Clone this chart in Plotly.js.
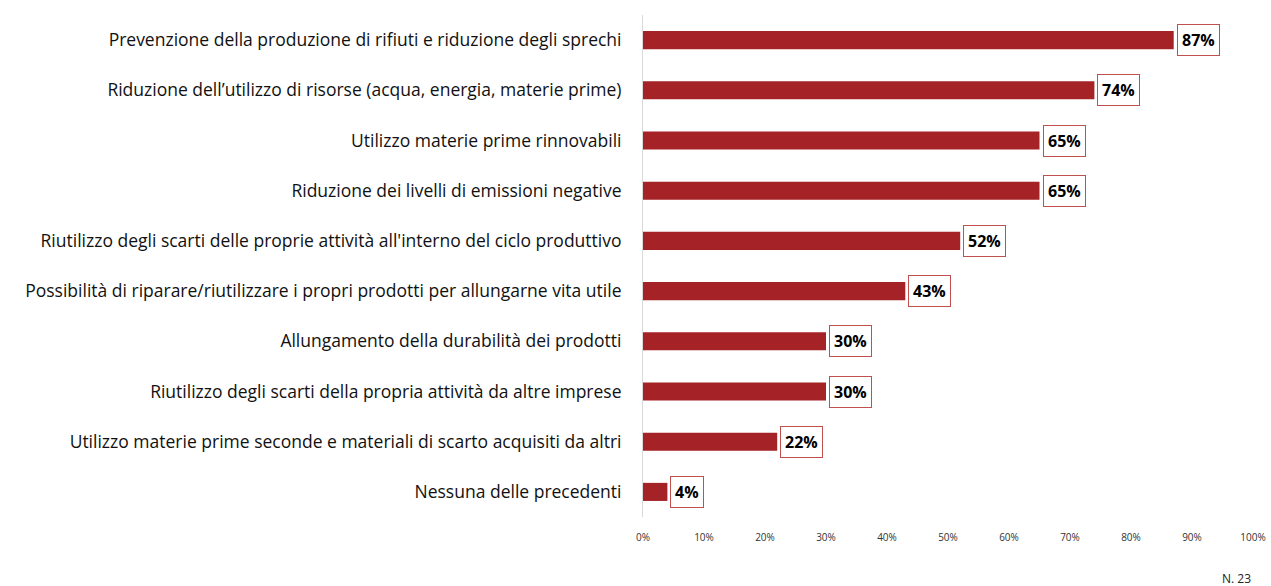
<!DOCTYPE html>
<html><head><meta charset="utf-8">
<script src="https://cdn.plot.ly/plotly-3.0.1.min.js"></script>
<style>body{margin:0;background:#fff}#c{width:1271px;height:586px}</style>
</head><body><div id="c"></div>
<script>
const categories = [
  "Prevenzione della produzione di rifiuti e riduzione degli sprechi",
  "Riduzione dell\u2019utilizzo di risorse (acqua, energia, materie prime)",
  "Utilizzo materie prime rinnovabili",
  "Riduzione dei livelli di emissioni negative",
  "Riutilizzo degli scarti delle proprie attività all'interno del ciclo produttivo",
  "Possibilità di riparare/riutilizzare i propri prodotti per allungarne vita utile",
  "Allungamento della durabilità dei prodotti",
  "Riutilizzo degli scarti della propria attività da altre imprese",
  "Utilizzo materie prime seconde e materiali di scarto acquisiti da altri",
  "Nessuna delle precedenti"
];
const values = [87, 74, 65, 65, 52, 43, 30, 30, 22, 4];
const tickVals = [0,10,20,30,40,50,60,70,80,90,100];
const tickText = tickVals.map(v => v + "%");
const note = "N. 23";

const font = "'Open Sans', sans-serif";
const data = [{
  type: "bar", orientation: "h",
  x: values, y: categories,
  marker: {color: "#A52227"},
  hoverinfo: "skip"
}];
const annotations = values.map((v, i) => ({
  x: v, y: categories[i], xref: "x", yref: "y",
  text: "<b>" + v + "%</b>", showarrow: false,
  xanchor: "left", xshift: 3,
  font: {family: font, size: 16, color: "#000"},
  bgcolor: "#fff", bordercolor: "#C0504D", borderwidth: 1, borderpad: 4
}));
annotations.push({
  x: 1, y: 0, xref: "paper", yref: "paper", xanchor: "right", yanchor: "bottom",
  yshift: -72, text: note, showarrow: false,
  font: {family: font, size: 12, color: "#222"}
});
const layout = {
  width: 1271, height: 586,
  margin: {l: 643, r: 18, t: 15, b: 69},
  paper_bgcolor: "#fff", plot_bgcolor: "#fff",
  showlegend: false, bargap: 0.64,
  font: {family: font},
  xaxis: {
    range: [0, 100], tickvals: tickVals, ticktext: tickText,
    showgrid: false, zeroline: false, showline: false,
    tickfont: {family: font, size: 10, color: "#333"},
    ticks: "", ticklabelstandoff: 13, fixedrange: true
  },
  yaxis: {
    categoryorder: "array", categoryarray: categories.slice().reverse(),
    showline: true, linecolor: "#D9D9D9", linewidth: 1,
    showgrid: false, zeroline: false, ticks: "",
    tickfont: {family: font, size: 17.5, color: "#111"},
    ticklabelstandoff: 17, fixedrange: true
  },
  annotations: annotations
};
Plotly.newPlot("c", data, layout, {displayModeBar: false, staticPlot: true});
</script></body></html>
